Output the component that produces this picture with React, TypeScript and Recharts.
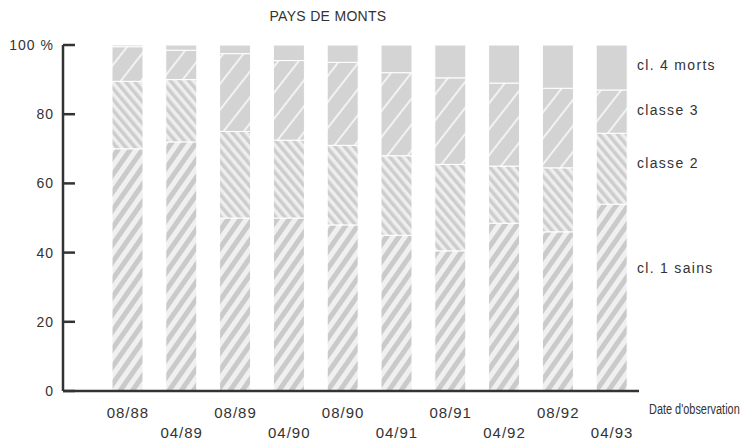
import { Bar, BarChart, XAxis, YAxis } from "recharts";

const dates = ["08/88", "04/89", "08/89", "04/90", "08/90", "04/91", "08/91", "04/92", "08/92", "04/93"];
const sains = [70, 72, 50, 50, 48, 45, 40.5, 48.5, 46, 54];
const classe2 = [19.5, 18, 25, 22.5, 23, 23, 25, 16.5, 18.5, 20.5];
const classe3 = [10, 8.5, 22.5, 23, 24, 24, 25, 24, 23, 12.5];
const morts = [0.5, 1.5, 2.5, 4.5, 5, 8, 9.5, 11, 12.5, 13];
const yTicks = [0, 20, 40, 60, 80, 100];

const ink = "#333";
const font = "'Liberation Sans', Arial, Helvetica, sans-serif";

const rows = dates.map((d, i) => ({
  date: d,
  sains: sains[i],
  classe2: classe2[i],
  classe3: classe3[i],
  morts: morts[i],
}));

function YTick(props: any) {
  const { x, y, payload } = props;
  return (
    <g>
      <line x1={x} x2={x + 12} y1={y} y2={y} stroke={ink} strokeWidth={2.5} />
      <text x={x - 9} y={y} dy={5} textAnchor="end" fontSize={14} letterSpacing={1} fill={ink} fontFamily={font}>
        {payload.value === 100 ? "100 %" : payload.value}
      </text>
    </g>
  );
}

function XTick(props: any) {
  const { x, y, payload, index } = props;
  return (
    <text x={x} y={y + (index % 2 === 0 ? 27 : 47)} textAnchor="middle" fontSize={15} letterSpacing={1} fill={ink} fontFamily={font}>
      {payload.value}
    </text>
  );
}

const label = (top: number, left: number, text: string, extra: any = {}) => (
  <div
    style={{
      position: "absolute",
      top: top - 9,
      left,
      lineHeight: "18px",
      fontSize: 14,
      letterSpacing: 1.3,
      color: ink,
      whiteSpace: "nowrap",
      ...extra,
    }}
  >
    {text}
  </div>
);

export default function App() {
  return (
    <div style={{ position: "absolute", left: 0, top: 0, width: 749, height: 443, background: "#fff", fontFamily: font, overflow: "hidden" }}>
      <BarChart width={749} height={443} data={rows} margin={{ top: 45, right: 110, bottom: 0, left: 0 }} barSize={31}>
        <defs>
          <pattern id="pSains" width="10" height="10" patternUnits="userSpaceOnUse" patternTransform="rotate(35)">
            <rect width="10" height="10" fill="#f0f0f0" />
            <rect width="5" height="10" fill="#cacaca" />
          </pattern>
          <pattern id="pClasse2" width="7" height="7" patternUnits="userSpaceOnUse" patternTransform="rotate(-40)">
            <rect width="7" height="7" fill="#eeeeee" />
            <rect width="3.5" height="7" fill="#cdcdcd" />
          </pattern>
          <pattern id="pClasse3" width="16" height="16" patternUnits="userSpaceOnUse" patternTransform="rotate(38)">
            <rect width="16" height="16" fill="#d3d3d3" />
            <rect width="2" height="16" fill="#f2f2f2" />
          </pattern>
        </defs>
        <XAxis
          dataKey="date"
          height={52}
          padding={{ left: 38, right: 0 }}
          axisLine={{ stroke: ink, strokeWidth: 2.5 }}
          tickLine={false}
          tickSize={0}
          tickMargin={0}
          interval={0}
          tick={<XTick />}
        />
        <YAxis
          width={63}
          domain={[0, 100]}
          allowDataOverflow
          ticks={yTicks}
          axisLine={{ stroke: ink, strokeWidth: 2.5 }}
          tickLine={false}
          tickSize={0}
          tickMargin={0}
          tick={<YTick />}
        />
        <Bar dataKey="sains" stackId="a" fill="url(#pSains)" stroke="#fff" strokeWidth={1} isAnimationActive={false} />
        <Bar dataKey="classe2" stackId="a" fill="url(#pClasse2)" stroke="#fff" strokeWidth={1} isAnimationActive={false} />
        <Bar dataKey="classe3" stackId="a" fill="url(#pClasse3)" stroke="#fff" strokeWidth={1} isAnimationActive={false} />
        <Bar dataKey="morts" stackId="a" fill="#d4d4d4" stroke="#fff" strokeWidth={1} isAnimationActive={false} />
      </BarChart>
      {label(16, 328, "PAYS DE MONTS", { transform: "translateX(-50%)", letterSpacing: 0.3 })}
      {label(65, 637, "cl. 4 morts")}
      {label(110, 637, "classe 3")}
      {label(163, 637, "classe 2")}
      {label(268, 637, "cl. 1 sains")}
      {label(409, 649, "Date d'observation", {
        letterSpacing: 0,
        transform: "scaleX(0.78)",
        transformOrigin: "left center",
      })}
    </div>
  );
}
